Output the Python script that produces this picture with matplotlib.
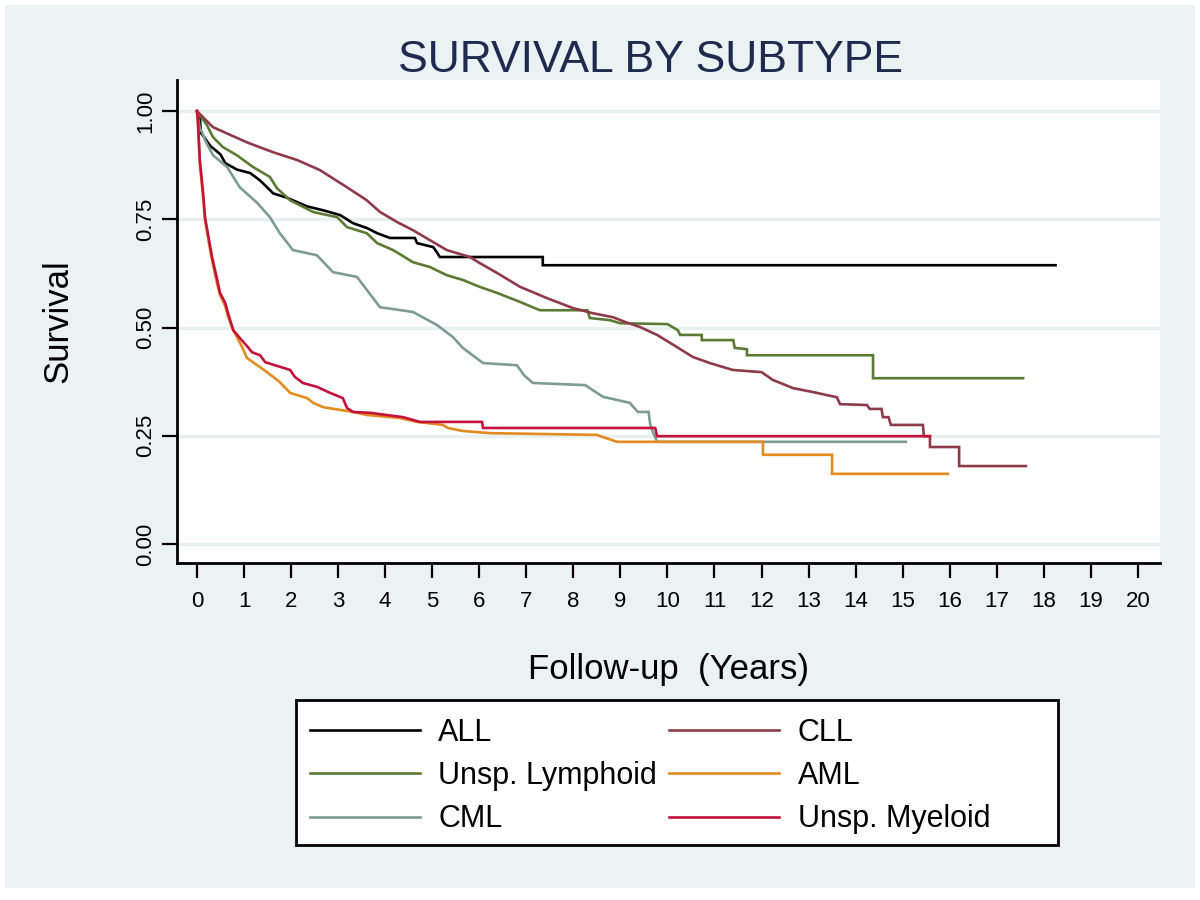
import matplotlib
matplotlib.use('Agg')
from matplotlib import pyplot as plt
from matplotlib.patches import Rectangle

plt.rcParams['font.family'] = ['Liberation Sans', 'DejaVu Sans']

# a repeated time marks a visible vertical drop
all_t = [0, 0.06, 0.08, 0.15, 0.28, 0.5, 0.6, 0.85, 1.13, 1.34, 1.62, 1.91, 2.34, 2.68,
         3.04, 3.32, 3.61, 3.83, 4.1, 4.63, 4.68, 5.02, 5.1, 5.16, 7.35, 7.35, 18.25]
all_s = [1.0, 0.99, 0.95, 0.94, 0.92, 0.90, 0.88, 0.865, 0.857, 0.84, 0.81, 0.80, 0.78, 0.771,
         0.76, 0.741, 0.73, 0.718, 0.707, 0.707, 0.695, 0.686, 0.674, 0.663, 0.663, 0.644, 0.644]

cll_t = [0, 0.34, 1.06, 1.62, 2.13, 2.61, 3.19, 3.61, 3.89, 4.25, 4.59, 5.31, 5.80, 6.01,
         6.38, 6.87, 7.44, 7.99, 8.42, 8.84, 9.10, 9.42, 9.78, 10.20, 10.54, 10.90, 11.39,
         12.0, 12.24, 12.67, 13.09, 13.60, 13.67, 14.24, 14.30, 14.55, 14.58, 14.70, 14.75,
         15.43, 15.45, 15.58, 15.58, 16.20, 16.20, 17.62]
cll_s = [1.0, 0.963, 0.928, 0.905, 0.887, 0.864, 0.824, 0.794, 0.767, 0.744, 0.725, 0.679, 0.663, 0.649,
         0.626, 0.594, 0.568, 0.545, 0.533, 0.524, 0.513, 0.501, 0.483, 0.455, 0.432, 0.418, 0.402,
         0.397, 0.379, 0.360, 0.351, 0.339, 0.323, 0.321, 0.312, 0.312, 0.293, 0.293, 0.275,
         0.275, 0.249, 0.249, 0.224, 0.224, 0.180, 0.180]

lym_t = [0, 0.21, 0.34, 0.55, 0.85, 1.19, 1.55, 1.70, 1.98, 2.47, 2.98, 3.19, 3.61, 3.83,
         4.17, 4.59, 4.95, 5.31, 5.65, 6.01, 6.38, 6.87, 7.29, 8.30, 8.35, 8.78, 8.99, 10.0,
         10.22, 10.27, 10.73, 10.73, 11.40, 11.43, 11.69, 11.69, 14.37, 14.37, 17.56]
lym_s = [1.0, 0.968, 0.94, 0.917, 0.898, 0.871, 0.848, 0.822, 0.794, 0.767, 0.755, 0.732, 0.718, 0.695,
         0.679, 0.651, 0.640, 0.621, 0.610, 0.594, 0.580, 0.559, 0.540, 0.540, 0.522, 0.517, 0.510, 0.508,
         0.494, 0.483, 0.483, 0.471, 0.471, 0.453, 0.450, 0.436, 0.436, 0.383, 0.383]

cml_t = [0, 0.06, 0.11, 0.17, 0.34, 0.64, 0.91, 1.28, 1.55, 1.76, 2.04, 2.55, 2.89, 3.40,
         3.61, 3.89, 4.59, 5.10, 5.44, 5.65, 6.08, 6.80, 6.95, 7.14, 8.25, 8.63, 9.20, 9.37,
         9.60, 9.63, 9.69, 9.78, 15.07]
cml_s = [1.0, 0.96, 0.951, 0.933, 0.898, 0.871, 0.824, 0.788, 0.755, 0.718, 0.679, 0.667, 0.628, 0.617,
         0.587, 0.547, 0.536, 0.506, 0.478, 0.453, 0.418, 0.413, 0.39, 0.372, 0.367, 0.340, 0.326, 0.305,
         0.305, 0.279, 0.259, 0.236, 0.236]

aml_t = [0, 0.02, 0.06, 0.13, 0.17, 0.23, 0.32, 0.43, 0.49, 0.6, 0.66, 0.77, 0.96, 1.06,
         1.28, 1.49, 1.76, 1.98, 2.34, 2.47, 2.68, 3.32, 3.61, 4.31, 4.68, 5.23, 5.33, 5.65,
         6.23, 8.50, 8.63, 8.93, 12.03, 12.03, 13.50, 13.50, 15.96]
aml_s = [1.0, 0.97, 0.88, 0.80, 0.75, 0.71, 0.655, 0.60, 0.575, 0.55, 0.525, 0.494, 0.455, 0.430,
         0.413, 0.397, 0.374, 0.349, 0.337, 0.326, 0.316, 0.305, 0.298, 0.291, 0.282, 0.275, 0.268, 0.261,
         0.256, 0.252, 0.247, 0.236, 0.236, 0.206, 0.206, 0.162, 0.162]

mye_t = [0, 0.02, 0.06, 0.13, 0.17, 0.23, 0.32, 0.43, 0.49, 0.60, 0.66, 0.77, 0.91, 1.08,
         1.17, 1.34, 1.45, 1.98, 2.08, 2.25, 2.55, 2.83, 3.10, 3.19, 3.32, 3.68, 4.38, 4.74,
         6.06, 6.08, 9.74, 9.78, 15.58]
mye_s = [1.0, 0.979, 0.887, 0.811, 0.755, 0.718, 0.663, 0.610, 0.580, 0.557, 0.533, 0.494, 0.476, 0.455,
         0.443, 0.436, 0.420, 0.402, 0.386, 0.372, 0.363, 0.349, 0.337, 0.314, 0.305, 0.303, 0.293, 0.282,
         0.282, 0.268, 0.268, 0.249, 0.249]

x_ticks = list(range(0, 21))
y_ticks = [0.0, 0.25, 0.5, 0.75, 1.0]

bg = '#EAF2F3'
fig = plt.figure(figsize=(12, 9), dpi=100)
fig.patch.set_facecolor('white')
fig.patches.append(Rectangle((5 / 1200, 12 / 900), 1190 / 1200, 883 / 900,
                             transform=fig.transFigure, facecolor=bg, edgecolor='none', zorder=-10))

ax = fig.add_axes([177 / 1200, 1 - 563 / 900, 983 / 1200, 483 / 900])
ax.set_facecolor('white')

lw = 1.9
curves = [
    (all_t, all_s, 'black', 'ALL'),
    (lym_t, lym_s, '#5B7B35', 'Unsp. Lymphoid'),
    (cml_t, cml_s, '#7D9C93', 'CML'),
    (cll_t, cll_s, '#8E3A48', 'CLL'),
    (aml_t, aml_s, '#E38B1E', 'AML'),
    (mye_t, mye_s, '#C4123C', 'Unsp. Myeloid'),
]
handles = []
for t, s, col, lab in curves:
    h, = ax.plot(t, s, color=col, lw=lw, label=lab, solid_joinstyle='miter')
    handles.append(h)
handles[5].set_zorder(3)

ax.set_xlim(-0.425, 20.47)
ax.set_ylim(-0.044, 1.072)
ax.set_xticks(x_ticks)
ax.set_yticks(y_ticks)
ax.set_yticklabels([f'{v:.2f}' for v in y_ticks], rotation=90, va='center')
ax.tick_params(axis='both', labelsize=16, length=11, width=1.6, direction='out', color='black')
ax.tick_params(axis='y', pad=4)
ax.tick_params(axis='x', pad=9)
ax.grid(axis='y', color='#E8F0F0', lw=2.5)
ax.set_axisbelow(True)
for side in ['top', 'right']:
    ax.spines[side].set_visible(False)
for side in ['left', 'bottom']:
    ax.spines[side].set_linewidth(2)

ax.set_ylabel('Survival', fontsize=25, labelpad=44)
ax.set_xlabel('Follow-up  (Years)', fontsize=25, labelpad=30)
fig.text(650 / 1200, 1 - 60 / 900, 'SURVIVAL BY SUBTYPE', fontsize=32, color='#1E2A4E',
         ha='center', va='center')

# legend box drawn separately so the columns can sit where they do in the original
fig.patches.append(Rectangle((296 / 1200, 1 - 845 / 900), 762 / 1200, 145 / 900,
                             transform=fig.transFigure, facecolor='white', edgecolor='black',
                             lw=2, zorder=1))
leg = fig.legend(handles=handles, loc='upper left', ncol=2,
                 bbox_to_anchor=(310 / 1200, 1 - 718 / 900),
                 borderaxespad=0, borderpad=0, fontsize=22, frameon=False,
                 handlelength=3.6, handletextpad=0.6, columnspacing=0.4,
                 labelspacing=0.43)

fig.savefig('out.png', dpi=100)
